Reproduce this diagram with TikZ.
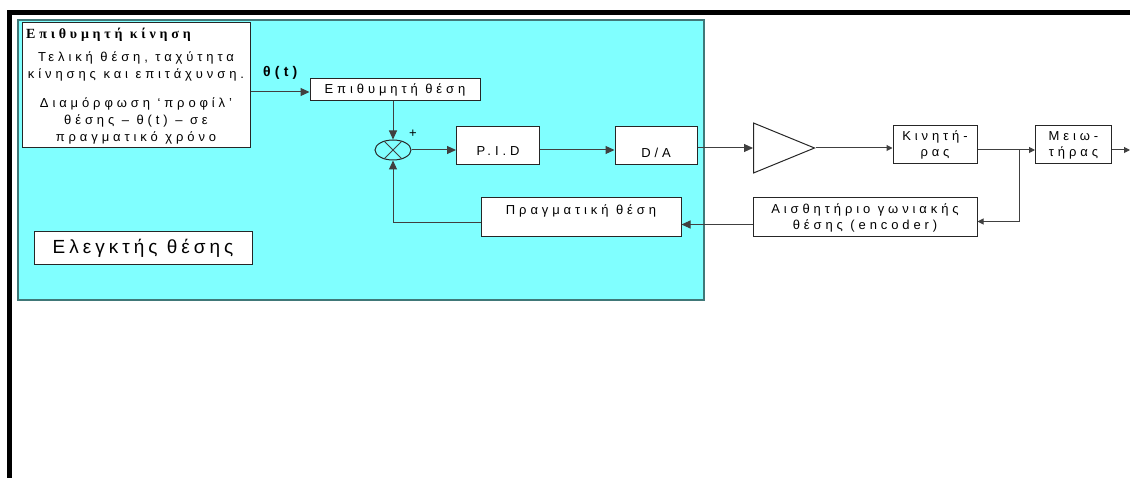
\documentclass[tikz,border=0pt]{standalone}
\usepackage{fontspec}
\setmainfont{Liberation Sans}
\newfontfamily\blkfont[LetterSpace=30]{Liberation Sans}
\newfontfamily\ctrlfont[LetterSpace=21]{Liberation Sans}
\newfontfamily\ttlfont[LetterSpace=27]{Liberation Serif}
\usetikzlibrary{arrows.meta,positioning,shapes.geometric,calc}
\definecolor{ctrlcyan}{RGB}{128,255,255}
\definecolor{ctrlrim}{RGB}{64,120,120}
\definecolor{wire}{RGB}{64,64,64}
\tikzset{
  blk/.style={rectangle, draw=black!85, fill=white, line width=1pt, inner sep=0pt,
              font=\blkfont\fontsize{13}{16}\selectfont, align=center},
  blklabel/.style={font=\blkfont\fontsize{13}{16}\selectfont, inner sep=0pt},
  sig/.style={-{Triangle[length=9pt,width=8pt]}, line width=1pt, wire},
  sigsmall/.style={-{Triangle[length=6pt,width=6pt]}, line width=1pt, wire},
  wireline/.style={line width=1pt, wire},
  sumjunc/.style={ellipse, draw=black!85, line width=1pt, minimum width=36pt,
                  minimum height=20pt, inner sep=0pt},
  ampl/.style={isosceles triangle, isosceles triangle stretches, draw=black!85,
               line width=1pt, minimum width=50pt, minimum height=61pt, inner sep=0pt},
  outframe/.style={line width=4.5pt, black},
  ctrlarea/.style={fill=ctrlcyan, draw=ctrlrim, line width=2pt},
}

\begin{document}
\begin{tikzpicture}[x=1pt, y=-1pt]
  \useasboundingbox (0,0) rectangle (1130,478);
  \draw[outframe] (1130,12.5) -- (9.5,12.5) -- (9.5,478);
  \draw[ctrlarea] (18,20) rectangle (704,300);

  % desired motion
  \node[blk, minimum width=228pt, minimum height=125pt] (motion) at (136,85) {};
  \node[anchor=base west, inner sep=0pt,
        font=\ttlfont\bfseries\fontsize{14}{16}\selectfont] (motiontitle) at (26,39) {Επιθυμητή κίνηση};
  \node[anchor=north, inner sep=0pt, align=center,
        font=\blkfont\fontsize{13}{17}\selectfont] (motiontext) at (136,52)
        {Τελική θέση, ταχύτητα\\κίνησης και επιτάχυνση.\\[12pt]Διαμόρφωση ‘προφίλ’\\θέσης – θ(t) – σε\\πραγματικό χρόνο};
  \node[anchor=base west, inner sep=0pt,
        font=\blkfont\bfseries\fontsize{14}{16}\selectfont] (thetalbl) at (263,77) {θ(t)};

  \node[blk, minimum width=170pt, minimum height=22pt] (desired) at (395,90) {Επιθυμητή θέση};
  \node[sumjunc] (sum) at (393,150) {};
  \draw[wireline] (sum.45) -- (sum.225) (sum.135) -- (sum.315);
  \node[blklabel] (plus) at (413,134) {+};
  \node[blk, minimum width=83pt, minimum height=38pt,
        label={[blklabel, yshift=-6pt]center:P.I.D}] (pid) at (498,145.5) {};
  \node[blk, minimum width=82pt, minimum height=38pt,
        label={[blklabel, yshift=-7pt]center:D/A}] (da) at (656,145.5) {};
  \node[ampl, anchor=lower side] (amp) at (753,148) {};
  \node[blk, minimum width=84pt, minimum height=38pt] (motor) at (935,145) {Κινητή-\\ρας};
  \node[blk, minimum width=76pt, minimum height=38pt] (gear) at (1073.5,145) {Μειω-\\τήρας};
  \node[blk, minimum width=224pt, minimum height=39pt] (enc) at (865,217.5)
        {Αισθητήριο γωνιακής\\θέσης (encoder)};
  \node[blk, minimum width=200pt, minimum height=39pt,
        label={[blklabel, yshift=7pt]center:Πραγματική θέση}] (actual) at (581,217.5) {};
  \node[blk, minimum width=218pt, minimum height=33pt,
        font=\ctrlfont\fontsize{19}{21}\selectfont] (ctrl) at (143,248.5) {Ελεγκτής θέσης};

  \coordinate (tap) at (1019,150);
  \coordinate (outend) at (1130,150);

  \draw[sig] ([yshift=-2pt]desired.west -| motion.east) -- ([yshift=-2pt]desired.west);
  \draw[sig] (desired.south -| sum.north) -- (sum.north);
  \draw[sig] (sum.east) -- (sum.east -| pid.west);
  \draw[sig] (pid.east |- sum.east) -- (da.west |- sum.east);
  \draw[sig] (da.east |- amp.lower side) -- (amp.lower side);
  \draw[sigsmall] (amp.apex) -- (amp.apex -| motor.west);
  \draw[wireline] (motor.east |- tap) -- (tap);
  \draw[sigsmall] (tap) -- (tap -| gear.west);
  \draw[sigsmall] (gear.east |- tap) -- (outend);
  \draw[sigsmall] (tap) |- ([yshift=-4pt]enc.east);
  \draw[sig] ([yshift=-7pt]enc.west) -- ([yshift=-7pt]actual.east);
  \draw[sig] ([yshift=-5pt]actual.west) -| (sum.south);
\end{tikzpicture}
\end{document}
